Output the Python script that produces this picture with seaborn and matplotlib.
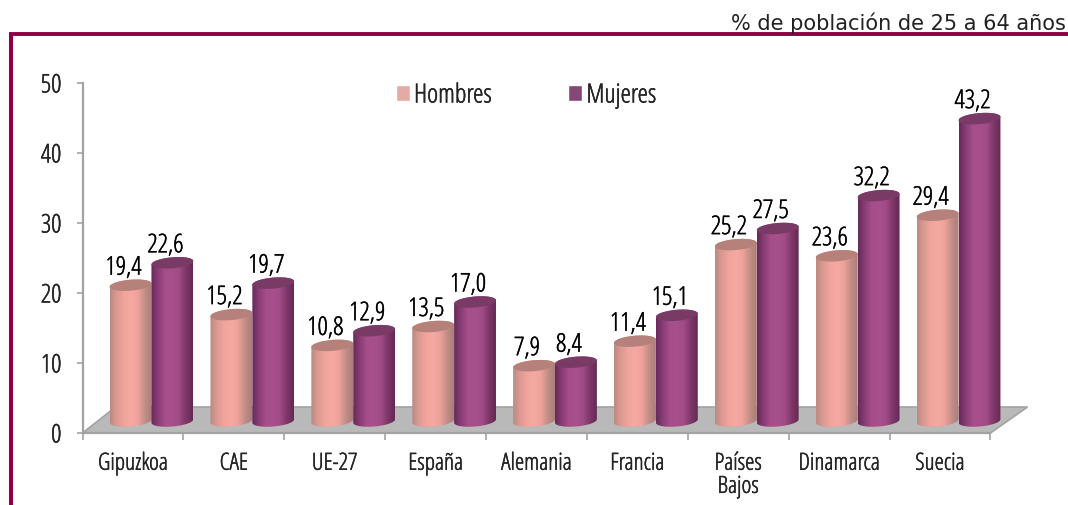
import matplotlib.pyplot as plt
import matplotlib.patheffects as pe
import numpy as np
import pandas as pd
import seaborn as sns
from matplotlib.colors import LinearSegmentedColormap
from matplotlib.lines import Line2D
from matplotlib.patches import Polygon
from matplotlib.path import Path

paises = ["Gipuzkoa", "CAE", "UE-27", "España", "Alemania", "Francia",
          "Países\nBajos", "Dinamarca", "Suecia"]
hombres = [19.4, 15.2, 10.8, 13.5, 7.9, 11.4, 25.2, 23.6, 29.4]
mujeres = [22.6, 19.7, 12.9, 17.0, 8.4, 15.1, 27.5, 32.2, 43.2]
y_ticks = [0, 10, 20, 30, 40, 50]

rosa = "#efa39b"
morado = "#8f3d7a"
marron = "#8e0044"
gris = "#a3a3a3"

sns.set_style("white")
plt.rcParams["font.family"] = ["Open Sans", "DejaVu Sans"]
plt.rcParams["font.stretch"] = "condensed"

df = pd.DataFrame({
    "pais": paises * 2,
    "valor": hombres + mujeres,
    "sexo": ["Hombres"] * 9 + ["Mujeres"] * 9,
})

W, H = 1068, 506
fig = plt.figure(figsize=(W / 100, H / 100), dpi=100)
ax = fig.add_axes([82.5 / W, (H - 434) / H, 908 / W, 350 / H])
sns.barplot(data=df, x="pais", y="valor", hue="sexo", palette=[rosa, morado],
            width=0.83, gap=0, ax=ax)
ax.set_xlim(-0.5, 8.5)
ax.set_ylim(0, 50)

px_x = 908 / 9   # pixeles por categoria
px_y = 350 / 50  # pixeles por unidad
base = 12 / px_y
desp = 18.5 / px_x
b = 5.5 / px_y   # semieje de la elipse
tilt = 1.7 / px_y
grueso = [pe.withStroke(linewidth=0.3, foreground="black")]  # la fuente condensada es fina

cmaps = {
    rosa: LinearSegmentedColormap.from_list("r", ["#b98a84", "#dc9a92", "#f0a49c", "#f5a9a2", "#eea29a", "#c28e88", "#ab7d78"]),
    morado: LinearSegmentedColormap.from_list("m", ["#652a58", "#8a3d76", "#a54e8a", "#a8508c", "#a04b86", "#7f3669", "#632955"]),
}
tapas = {rosa: "#b5817a", morado: "#7a3a66"}
grad = np.linspace(0, 1, 256).reshape(1, -1)
t = np.linspace(0, 2 * np.pi, 80)


def elipse(cx, cy, a, t):
    return np.c_[cx + a * np.cos(t), cy + b * np.sin(t) + tilt * np.cos(t)]


def cilindro(patch, color, z):
    x0 = patch.get_x() + desp
    a = patch.get_width() / 2
    cx = x0 + a
    top = base + patch.get_height()
    # cuerpo: arco de abajo + arco de arriba
    abajo = elipse(cx, base, a, np.linspace(np.pi, 2 * np.pi, 40))
    arriba = elipse(cx, top, a, np.linspace(0, np.pi, 40))
    verts = np.vstack([abajo, arriba, abajo[:1]])
    im = ax.imshow(grad, extent=[x0, x0 + 2 * a, 0, top + 2 * b], aspect="auto",
                   cmap=cmaps[color], zorder=z, interpolation="bilinear")
    im.set_clip_box(fig.bbox)
    im.set_clip_path(Path(verts), ax.transData)
    ax.add_patch(Polygon(elipse(cx, top, a, t), closed=True, facecolor=tapas[color],
                         edgecolor="none", zorder=z + 0.1, clip_on=False))
    return cx, top


# suelo del grafico
ax.add_patch(Polygon([(-0.5, 0), (8.5, 0), (8.5 + 37 / px_x, 26 / px_y), (-0.5 + 33 / px_x, 26 / px_y)],
                     closed=True, facecolor="#b9b9b9", edgecolor=gris, linewidth=1.2,
                     clip_on=False, zorder=1))

barras = ax.containers[0].patches + ax.containers[1].patches
for i, patch in enumerate(barras):
    color = rosa if i < 9 else morado
    z = 3 + (i % 9) + (0.5 if i >= 9 else 0)
    patch.set_visible(False)
    cx, top = cilindro(patch, color, z)
    txt = f"{patch.get_height():.1f}".replace(".", ",")
    ax.annotate(txt, (cx, top), xytext=(-7 * 0.72, 17 * 0.72), textcoords="offset points",
                ha="center", va="center", fontsize=18.5, color="black", zorder=20,
                annotation_clip=False, path_effects=grueso)

ax.set_xlim(-0.5, 8.5)
ax.set_ylim(0, 50)

sns.despine(ax=ax)
for s in ["left", "bottom"]:
    ax.spines[s].set_color(gris)
    ax.spines[s].set_linewidth(1.6)
    ax.spines[s].set_zorder(2)

ax.set_xlabel("")
ax.set_ylabel("")
ax.set_yticks(y_ticks)
ax.tick_params(axis="y", length=4.5, width=1.2, color=gris, pad=10.7, labelsize=18.5, left=True)
ax.set_xticks(np.arange(-0.5, 9, 1))
ax.set_xticklabels([])
ax.tick_params(axis="x", which="major", length=5, width=1.2, color=gris, bottom=True)
ax.set_xticks(np.arange(9), minor=True)
ax.set_xticklabels(paises, minor=True, fontsize=17, linespacing=0.95)
ax.tick_params(axis="x", which="minor", length=0, pad=13.5)
for lab in ax.get_yticklabels():
    lab.set_verticalalignment("center_baseline")
for lab in ax.get_yticklabels() + ax.get_xticklabels(minor=True):
    lab.set_path_effects(grueso)

handles, labels = ax.get_legend_handles_labels()
leg = ax.legend(handles, labels, ncol=2, frameon=False, fontsize=19, loc="center left",
                bbox_to_anchor=((396 - 82.5) / 908, (434 - 97) / 350), handlelength=0.53, handleheight=0.53,
                handletextpad=0.15, columnspacing=2.9, borderpad=0, borderaxespad=0)
for lab in leg.get_texts():
    lab.set_path_effects(grueso)

# marco y texto de arriba
fig.add_artist(Line2D([9 / W, 1], [1 - 35 / H, 1 - 35 / H], color=marron, linewidth=2.8, solid_capstyle="butt"))
fig.add_artist(Line2D([11 / W, 11 / W], [0, 1 - 33.5 / H], color=marron, linewidth=2.9, solid_capstyle="butt"))
fig.text(1066 / W, 1 - 23 / H, "% de población de 25 a 64 años", ha="right", va="center",
         fontsize=15, family=["DejaVu Sans"], stretch="normal", color="#222222")

fig.savefig("out.png", dpi=100)
